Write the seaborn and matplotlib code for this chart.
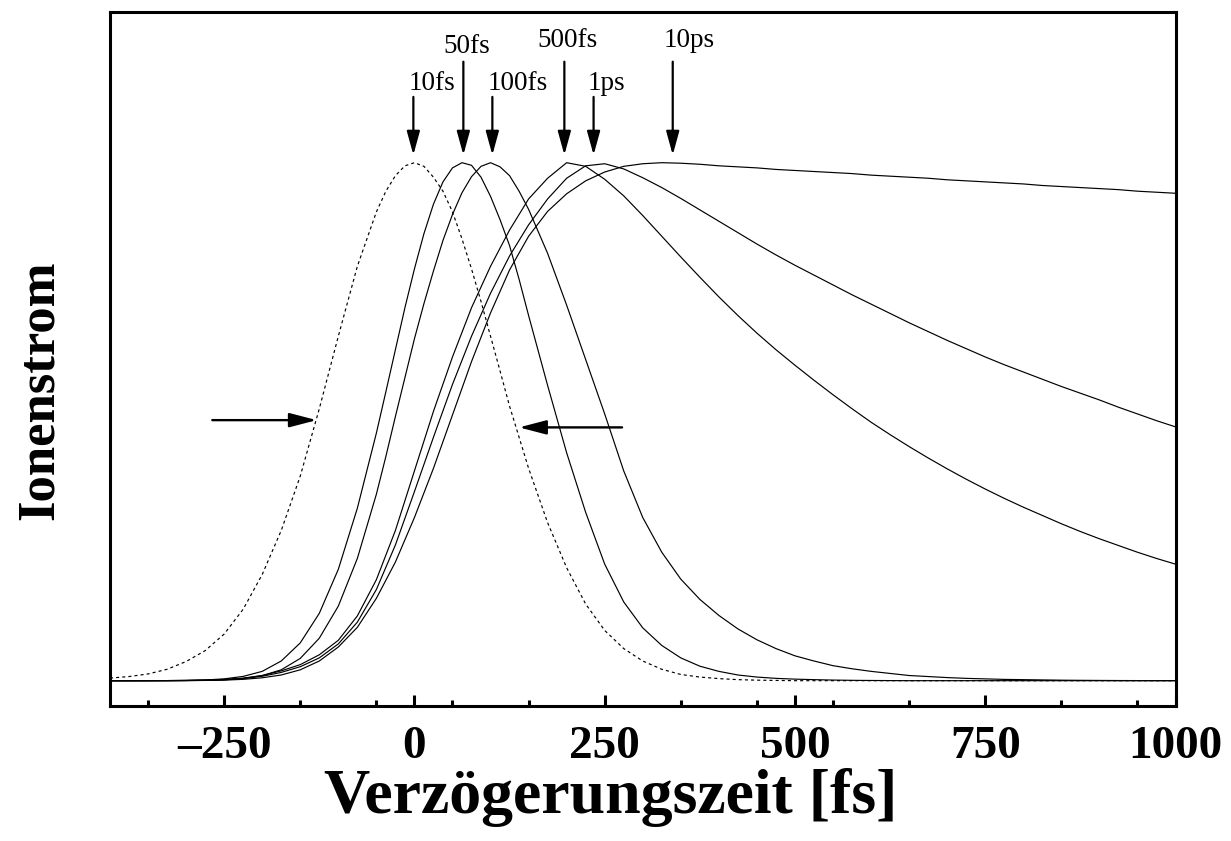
import matplotlib
matplotlib.use("Agg")
import matplotlib.pyplot as plt
import seaborn as sns
import pandas as pd

# ---------------- data ----------------
time_fs = list(range(-400, 1001, 25))
# extra read-off points around the narrow peaks
peak_t = [-37.5, -12.5, 12.5, 37.5, 62.5, 87.5, 112.5, 137.5]

corr_10fs = [0.005, 0.008, 0.013, 0.022, 0.037, 0.058, 0.09, 0.138, 0.205, 0.29,
             0.395, 0.525, 0.665, 0.80, 0.905, 0.975, 1.0, 0.972, 0.905, 0.795,
             0.665, 0.53, 0.41, 0.305, 0.218, 0.148, 0.097, 0.062, 0.038, 0.022,
             0.012, 0.007, 0.004, 0.002, 0.001, 0.0005, 0.0] + [0.0] * 20
corr_10fs_peak = [0.945, 0.994, 0.993, 0.945, 0.853, 0.732, 0.598, 0.47]

decay_50fs = [0.0, 0.0, 0.0, 0.0002, 0.0005, 0.0014, 0.0035, 0.0083, 0.018, 0.038,
              0.073, 0.13, 0.215, 0.333, 0.478, 0.639, 0.795, 0.92, 0.99, 0.995,
              0.935, 0.84, 0.705, 0.57, 0.44, 0.325, 0.225, 0.152, 0.102, 0.068,
              0.044, 0.028, 0.018, 0.011, 0.007, 0.0045, 0.003, 0.002, 0.0012, 0.0007,
              0.0004, 0.0002, 0.0] + [0.0] * 14
decay_50fs_peak = [0.558, 0.72, 0.863, 0.963, 1.0, 0.972, 0.89, 0.775]

decay_100fs = [0.0, 0.0, 0.0, 0.0001, 0.0002, 0.0006, 0.0016, 0.0042, 0.0098, 0.021,
               0.043, 0.082, 0.144, 0.236, 0.36, 0.51, 0.66, 0.791, 0.90, 0.973,
               1.0, 0.975, 0.91, 0.825, 0.725, 0.62, 0.515, 0.405, 0.315, 0.248,
               0.196, 0.157, 0.126, 0.10, 0.079, 0.062, 0.048, 0.038, 0.029, 0.023,
               0.018, 0.014, 0.01, 0.008, 0.006, 0.0045, 0.0035, 0.0025, 0.002, 0.0015,
               0.001, 0.0007, 0.0005, 0.0003, 0.0002, 0.0001, 0.0]
decay_100fs_peak = [0.433, 0.585, 0.728, 0.85, 0.942, 0.993, 0.992, 0.945]

decay_500fs = [0.0, 0.0, 0.0001, 0.0002, 0.0005, 0.001, 0.0025, 0.005, 0.01, 0.019,
               0.031, 0.05, 0.078, 0.125, 0.195, 0.29, 0.405, 0.52, 0.625, 0.72,
               0.80, 0.87, 0.93, 0.97, 1.0, 0.993, 0.968, 0.936, 0.898, 0.858,
               0.818, 0.779, 0.741, 0.705, 0.671, 0.639, 0.609, 0.58, 0.552, 0.525,
               0.499, 0.475, 0.452, 0.43, 0.409, 0.389, 0.37, 0.352, 0.335, 0.319,
               0.303, 0.288, 0.274, 0.261, 0.248, 0.236, 0.225]

decay_1ps = [0.0, 0.0, 0.0001, 0.0002, 0.0004, 0.0009, 0.002, 0.0042, 0.0085, 0.016,
             0.027, 0.044, 0.071, 0.113, 0.176, 0.262, 0.365, 0.47, 0.572, 0.665,
             0.748, 0.82, 0.88, 0.93, 0.97, 0.994, 0.998, 0.988, 0.971, 0.952,
             0.931, 0.909, 0.887, 0.865, 0.843, 0.822, 0.802, 0.783, 0.764, 0.745,
             0.727, 0.709, 0.691, 0.674, 0.657, 0.641, 0.625, 0.61, 0.596, 0.582,
             0.568, 0.555, 0.542, 0.528, 0.515, 0.502, 0.49]

decay_10ps = [0.0, 0.0, 0.0, 0.0001, 0.0002, 0.0005, 0.0011, 0.0026, 0.0056, 0.011,
              0.021, 0.038, 0.065, 0.103, 0.159, 0.229, 0.315, 0.41, 0.513, 0.616,
              0.71, 0.793, 0.858, 0.906, 0.94, 0.965, 0.982, 0.993, 0.998, 1.0,
              0.999, 0.997, 0.994, 0.992, 0.99, 0.987, 0.985, 0.983, 0.981, 0.979,
              0.976, 0.974, 0.972, 0.97, 0.967, 0.965, 0.963, 0.961, 0.959, 0.956,
              0.954, 0.952, 0.95, 0.948, 0.945, 0.943, 0.941]

curve_labels = ["10fs", "50fs", "100fs", "500fs", "1ps", "10ps"]
label_x = [22.5, 68.9, 135.5, 201.2, 252.4, 361.0]
label_y = [1.140, 1.212, 1.140, 1.223, 1.140, 1.223]
arrow_x = [-1.4, 64.3, 102.4, 197.0, 235.4, 339.4]
arrow_top = [1.127, 1.195, 1.127, 1.195, 1.127, 1.195]
arrow_tip = 1.0149

fwhm_tail_x = [-265.6, 272.8]
fwhm_tip_x = [-128.4, 137.5]
fwhm_y = [0.503, 0.489]

major_ticks = [-250, 0, 250, 500, 750, 1000]
tick_labels = ["\u2013250", "0", "250", "500", "750", "1000"]
minor_ticks = [-350, -150, -50, 50, 150, 350, 450, 550, 650, 850, 950]

# ---------------- plotting ----------------
sns.set_theme(style="white")
plt.rcParams["font.family"] = ["Liberation Serif", "DejaVu Serif"]

W, H = 1231, 841
fig = plt.figure(figsize=(W / 100, H / 100), dpi=100)
ax = fig.add_axes([110 / W, 1 - 705.5 / H, (1175.5 - 110) / W, (705.5 - 11.5) / H])


def curve_frame(grid_vals, extra_vals=None):
    t = list(time_fs)
    y = list(grid_vals)
    if extra_vals is not None:
        t += peak_t
        y += extra_vals
    return pd.DataFrame({"t": t, "y": y}).sort_values("t")


series = [
    (curve_frame(corr_10fs, corr_10fs_peak), (0, (2.6, 2.6))),
    (curve_frame(decay_50fs, decay_50fs_peak), "-"),
    (curve_frame(decay_100fs, decay_100fs_peak), "-"),
    (curve_frame(decay_500fs), "-"),
    (curve_frame(decay_1ps), "-"),
    (curve_frame(decay_10ps), "-"),
]
for d, ls in series:
    sns.lineplot(data=d, x="t", y="y", ax=ax, color="black", linewidth=0.85,
                 linestyle=ls, errorbar=None, legend=False, sort=True)

ax.set_xlim(-400, 1000)
ax.set_ylim(-0.0479, 1.2919)
ax.set_xlabel("")
ax.set_ylabel("")
ax.set_yticks([])
ax.set_xticks(major_ticks)
ax.set_xticklabels(tick_labels, fontsize=34, fontweight="bold")
ax.set_xticks(minor_ticks, minor=True)
ax.tick_params(axis="x", which="major", direction="in", length=8, width=2.2,
               bottom=True, top=False, pad=15, color="black", labelcolor="black")
ax.tick_params(axis="x", which="minor", direction="in", length=4, width=2.2,
               bottom=True, top=False, color="black")
for sp in ax.spines.values():
    sp.set_visible(True)
    sp.set_color("black")
    sp.set_linewidth(2.2)

# labels with arrows
for lab, lx, ly, axx, atop in zip(curve_labels, label_x, label_y, arrow_x, arrow_top):
    ax.text(lx, ly, lab, ha="center", va="baseline", fontsize=19.5, color="black")
    ax.annotate("", xy=(axx, arrow_tip), xytext=(axx, atop),
                arrowprops=dict(arrowstyle="-|>,head_length=0.4,head_width=0.11",
                                color="black", lw=1.6, shrinkA=0, shrinkB=0,
                                mutation_scale=36))

for tx, hx, hy in zip(fwhm_tail_x, fwhm_tip_x, fwhm_y):
    ax.annotate("", xy=(hx, hy), xytext=(tx, hy),
                arrowprops=dict(arrowstyle="-|>,head_length=0.46,head_width=0.12",
                                color="black", lw=1.7, shrinkA=0, shrinkB=0,
                                mutation_scale=36))

fig.text(40 / W, 1 - 390 / H, "Ionenstrom", rotation=90, ha="center", va="center",
         fontsize=38, fontweight="bold", color="black")
fig.text(611 / W, 1 - 813 / H, "Verz\u00f6gerungszeit [fs]", ha="center", va="baseline",
         fontsize=46, fontweight="bold", color="black")

fig.savefig("out.png", dpi=100, facecolor="white")
